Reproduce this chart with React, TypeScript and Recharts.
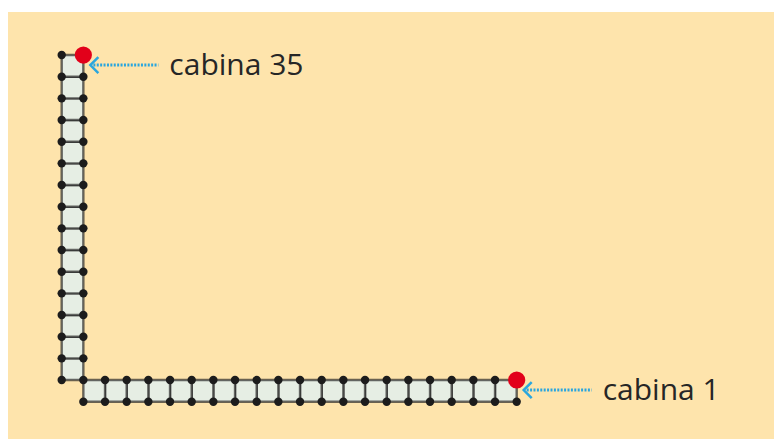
import React from 'react';
import { ComposedChart, Scatter, XAxis, YAxis, ReferenceArea } from 'recharts';

// Cabin numbers and their grid cells (column, row) in the L-shaped layout
const cabinNumbers = [
  1, 2, 3, 4, 5, 6, 7, 8, 9, 10, 11, 12, 13, 14, 15, 16, 17, 18, 19, 20,
  21, 22, 23, 24, 25, 26, 27, 28, 29, 30, 31, 32, 33, 34, 35,
];
const cabinCol = [
  20, 19, 18, 17, 16, 15, 14, 13, 12, 11, 10, 9, 8, 7, 6, 5, 4, 3, 2, 1,
  0, 0, 0, 0, 0, 0, 0, 0, 0, 0, 0, 0, 0, 0, 0,
];
const cabinRow = [
  0, 0, 0, 0, 0, 0, 0, 0, 0, 0, 0, 0, 0, 0, 0, 0, 0, 0, 0, 0,
  1, 2, 3, 4, 5, 6, 7, 8, 9, 10, 11, 12, 13, 14, 15,
];
const markedCabins = [1, 35];
const markedLabels = ['cabina 1', 'cabina 35'];

const X_DOMAIN: [number, number] = [-2.478, 33.245];
const Y_DOMAIN: [number, number] = [-1.722, 17.986];

const cabins = cabinNumbers.map((n, i) => ({ n, col: cabinCol[i], row: cabinRow[i] }));

const cornerMap = new Map<string, { x: number; y: number }>();
cabins.forEach((c) => {
  [
    [c.col, c.row],
    [c.col + 1, c.row],
    [c.col, c.row + 1],
    [c.col + 1, c.row + 1],
  ].forEach(([x, y]) => cornerMap.set(`${x}_${y}`, { x, y }));
});
const corners = Array.from(cornerMap.values());

const marked = markedCabins.map((n, i) => {
  const c = cabins.find((cb) => cb.n === n)!;
  return { x: c.col + 1, y: c.row + 1, label: markedLabels[i] };
});

const BlackDot = (props: any) => {
  const { cx, cy } = props;
  if (cx == null || cy == null) return null;
  return <circle cx={cx} cy={cy} r={4.2} fill="#1c1c1c" />;
};

const Marker = (props: any) => {
  const { cx, cy, payload } = props;
  if (cx == null || cy == null) return null;
  const ay = cy + 10;
  const tipX = cx + 7;
  return (
    <g>
      <circle cx={cx} cy={cy} r={8.6} fill="#E2001A" />
      <line
        x1={tipX + 3}
        y1={ay}
        x2={cx + 75}
        y2={ay}
        stroke="#2AA6DE"
        strokeWidth={3}
        strokeDasharray="2 1.4"
      />
      <polyline
        points={`${tipX + 8},${ay - 8} ${tipX},${ay} ${tipX + 8},${ay + 8}`}
        fill="none"
        stroke="#2AA6DE"
        strokeWidth={2.5}
      />
      <text
        x={cx + 86}
        y={cy + 19.5}
        fontFamily="'Open Sans', sans-serif"
        fontSize={30}
        fill="#262626"
      >
        {payload.label}
      </text>
    </g>
  );
};

export default function App() {
  return (
    <div style={{ paddingTop: 4 }}>
      <div style={{ width: 774, height: 427, background: '#FEE4AC' }}>
        <ComposedChart width={774} height={427} margin={{ top: 0, right: 0, bottom: 0, left: 0 }}>
          <XAxis type="number" dataKey="x" domain={X_DOMAIN} hide allowDataOverflow />
          <YAxis type="number" dataKey="y" domain={Y_DOMAIN} hide allowDataOverflow />
          {cabins.map((c) => (
            <ReferenceArea
              key={c.n}
              x1={c.col}
              x2={c.col + 1}
              y1={c.row}
              y2={c.row + 1}
              fill="#E6EEE4"
              fillOpacity={1}
              stroke="#2a2a2a"
              strokeOpacity={0.7}
              strokeWidth={2.4}
              ifOverflow="visible"
            />
          ))}
          <Scatter data={corners} shape={BlackDot} isAnimationActive={false} />
          <Scatter data={marked} shape={Marker} isAnimationActive={false} />
        </ComposedChart>
      </div>
    </div>
  );
}
